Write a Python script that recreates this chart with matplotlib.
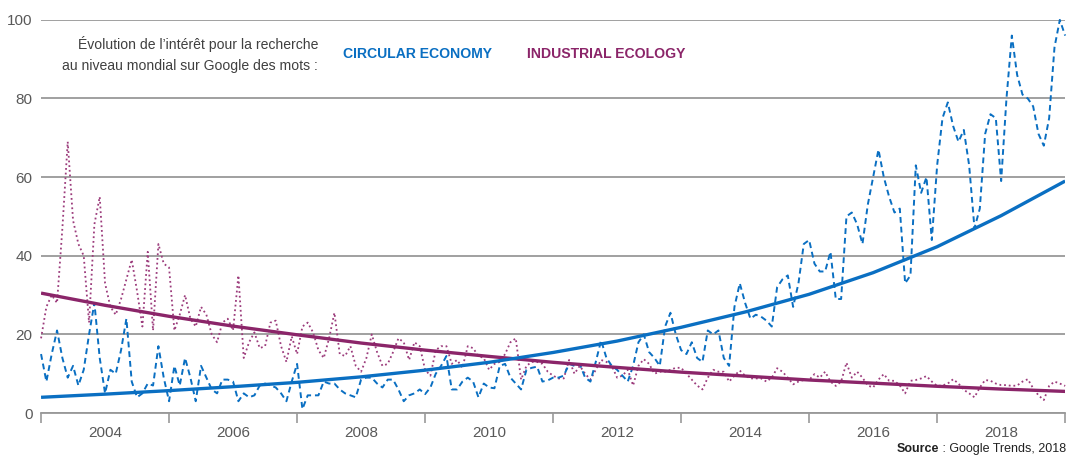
import numpy as np
import matplotlib
matplotlib.use("Agg")
import matplotlib.pyplot as plt

plt.rcParams['font.family'] = ['Liberation Sans', 'DejaVu Sans']

# recherches mensuelles, janv. 2003 -> janv. 2019 (indice Google Trends)
circular = [
    15, 8, 15, 21, 14, 9, 12, 7, 11, 20, 28, 14,
    5, 11, 10, 16, 24, 8, 4, 5, 7.5, 7, 17, 9,
    3, 12, 7, 14, 9, 3, 12, 9, 6, 5, 8.5, 8.5,
    8, 3, 5, 4, 4.5, 7, 7.5, 7, 6.5, 5, 3, 8,
    12.5, 1, 4.5, 4.5, 4.5, 8, 7.5, 7.5, 6, 5, 4.5, 4,
    8.5, 9, 9, 7.5, 6.5, 8.5, 8.5, 6, 3, 4.5, 5, 6,
    4.8, 6.5, 10, 12, 14.5, 6, 6, 8, 9, 8, 4, 7.5,
    6.5, 6.3, 12, 12.5, 9, 7.5, 6, 11, 11.5, 11.8, 8, 8.3,
    9, 9, 9.5, 12.5, 12, 12.5, 9, 8, 13, 18.5, 14, 12,
    11, 9.5, 8, 12, 18, 20, 15.5, 14, 12, 22, 25.5, 20,
    16, 15, 18, 14, 13, 21, 20, 21, 14, 12, 27, 33,
    28, 24, 25, 24.5, 23.5, 22, 32, 34, 35, 27, 33, 43,
    44, 38, 36, 36, 41, 29, 29, 50, 51, 48, 43, 53,
    60, 67, 60, 55, 51, 52, 33, 35, 63, 56, 60, 44,
    63, 75, 79, 73, 69, 72, 63, 47, 52, 71, 76, 75,
    59, 80, 96, 86, 81, 80, 78, 71, 68, 75, 93, 100,
    96,
]
industrial = [
    19, 27, 30, 28, 47, 69, 49, 43, 40, 23, 48, 55,
    33, 27, 25, 29, 34, 39, 31, 22, 41, 21, 43, 38,
    37, 21, 25, 30, 24, 22, 27, 25, 20, 18, 23, 24,
    21, 35, 14, 18, 20.5, 16.5, 17, 23, 23.5, 17, 13, 19.5,
    15, 22, 23, 20.5, 16, 14, 19, 25.5, 15, 14.5, 17, 12,
    10.5, 14, 20, 15.5, 12, 12.5, 15.5, 19, 18, 13.5, 18, 17,
    11, 9.5, 16, 17, 17, 12.5, 13.5, 11.5, 17, 16.5, 14.5, 14,
    11, 12.5, 13, 15, 18, 19, 8.5, 12, 13, 13, 12.5, 10.5,
    9.5, 8.8, 8.8, 13.5, 10, 12, 10, 8.5, 11, 13.5, 13, 12,
    9, 9.5, 11, 7, 12, 13.7, 12.5, 10, 10.5, 10.5, 11, 11.5,
    11.5, 10, 8.5, 7, 6, 9, 11, 10.5, 10.5, 8, 9.5, 10.8,
    9.5, 8.8, 8.8, 8.8, 8, 9, 11.4, 10.5, 9, 7.3, 8, 8.4,
    8.4, 9.9, 9, 10.5, 8, 6.9, 8, 12.8, 9, 10.5, 9, 7,
    6.5, 8.5, 9.9, 8.2, 8.2, 7, 5, 8.2, 8.4, 8.8, 9.4, 8,
    6.9, 7, 7.5, 8.6, 7.5, 5.9, 5, 4, 6.5, 8.4, 8.2, 7.5,
    7.1, 7.1, 6.9, 7, 8, 8.6, 6.3, 4.5, 3.3, 6.9, 8, 7.5,
    6.9,
]

# courbes de tendance (une valeur par an)
trend_years = list(range(2003, 2020))
circular_trend = [4.0, 4.8, 5.7, 6.7, 7.8, 9.2, 10.9, 12.9, 15.4, 18.3,
                  21.8, 25.7, 30.2, 35.7, 42.3, 50.2, 59.0]
industrial_trend = [30.5, 27.4, 24.6, 22.1, 19.9, 17.8, 16.0, 14.4, 12.9,
                    11.6, 10.4, 9.4, 8.4, 7.6, 6.8, 6.1, 5.5]

year_labels = list(range(2004, 2019, 2))
y_ticks = [0, 20, 40, 60, 80, 100]

blue = '#0A6FC2'
purple = '#8B2569'
grey = '#595959'

months = 2003 + np.arange(len(circular)) / 12

fig = plt.figure(figsize=(10.69, 4.62), dpi=100)
ax = fig.add_axes([0.0384, 0.106, 0.958, 0.851])

ax.plot(months, industrial, color='#9C3C7C', lw=1.3, ls=(0, (1, 1.6)), clip_on=False)
ax.plot(months, circular, color=blue, lw=1.4, ls=(0, (3, 2)), clip_on=False)
ax.plot(trend_years, industrial_trend, color=purple, lw=2.4, solid_capstyle='butt')
ax.plot(trend_years, circular_trend, color=blue, lw=2.4, solid_capstyle='butt')

ax.set_xlim(2003, 2019)
ax.set_ylim(0, 100)

ax.set_xticks(range(2003, 2020, 2))
ax.set_xticklabels([])
ax.set_xticks(year_labels, minor=True)
ax.set_xticklabels([str(y) for y in year_labels], minor=True)
ax.tick_params(axis='x', which='major', length=7, width=1.2, color='#999999', direction='out')
ax.tick_params(axis='x', which='minor', length=0, pad=9, labelsize=11, labelcolor=grey)

ax.set_yticks(y_ticks)
ax.set_yticklabels([str(v) for v in y_ticks])
ax.tick_params(axis='y', length=0, pad=6, labelsize=11, labelcolor=grey)
ax.grid(axis='y', color='#999999', lw=1.3)
ax.set_axisbelow(True)

for side in ['top', 'right', 'left']:
    ax.spines[side].set_visible(False)
ax.spines['bottom'].set_color('#999999')
ax.spines['bottom'].set_linewidth(1.3)

fig.text(0.2975, 0.905, "Évolution de l\u2019intérêt pour la recherche",
         ha='right', va='center', fontsize=10.1, color='#404040')
fig.text(0.2975, 0.857, "au niveau mondial sur Google des mots :",
         ha='right', va='center', fontsize=10.1, color='#404040')
fig.text(0.321, 0.883, "CIRCULAR ECONOMY", ha='left', va='center',
         fontsize=10.1, fontweight='bold', color=blue)
fig.text(0.493, 0.883, "INDUSTRIAL ECOLOGY", ha='left', va='center',
         fontsize=10.1, fontweight='bold', color=purple)

src = fig.text(0.997, 0.015, " : Google Trends, 2018", ha='right', va='bottom',
               fontsize=9, color='#222222')
fig.canvas.draw()
bb = src.get_window_extent()
fig.text(bb.x0 / fig.bbox.width, 0.015, "Source", ha='right', va='bottom',
         fontsize=9, fontweight='bold', color='#222222')

fig.savefig('out.png', dpi=100)
